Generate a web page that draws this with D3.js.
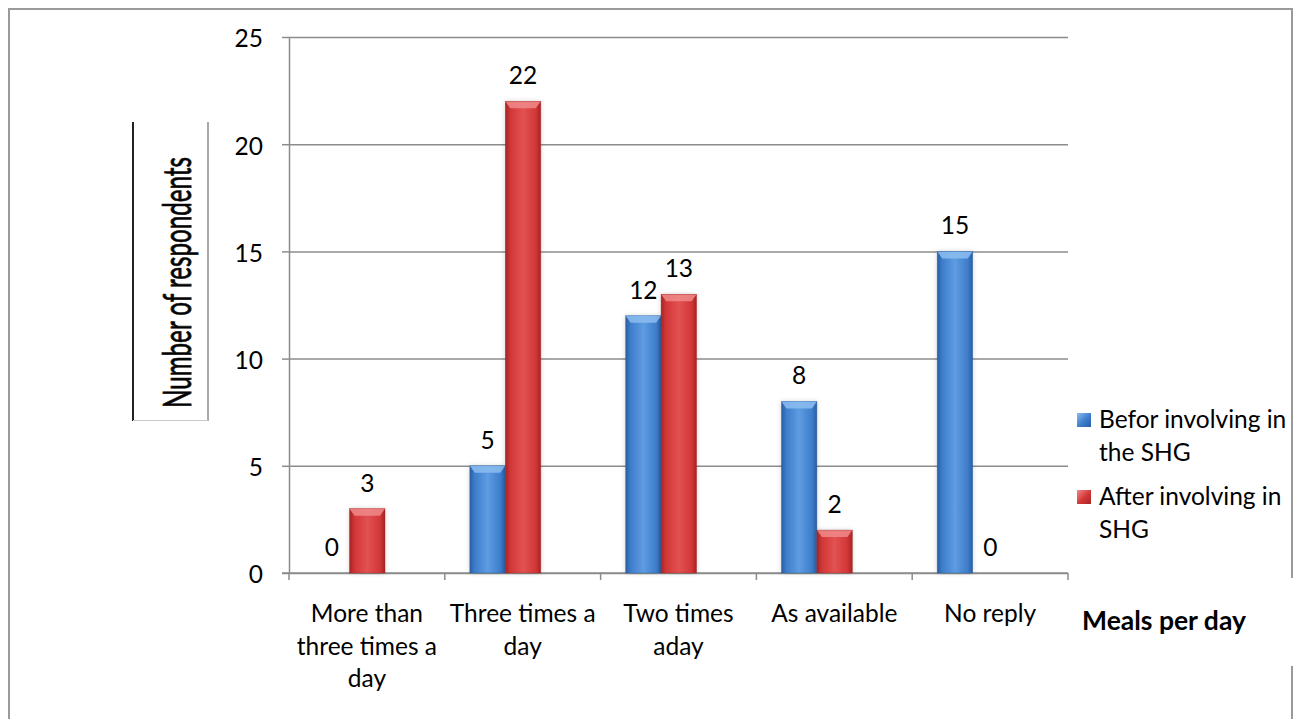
<!DOCTYPE html>
<html>
<head>
<meta charset="utf-8">
<script src="https://cdn.jsdelivr.net/npm/d3@7"></script>
<style>
  html, body { margin: 0; padding: 0; background: #fff; }
  svg { display: block; }
  text { font-family: Lato, "Open Sans", sans-serif; fill: #000; }
</style>
</head>
<body>
<svg id="chart" width="1300" height="719"></svg>
<script>
// Meals per day: respondents before and after joining the SHG
const categories = ["More than three times a day", "Three times a day", "Two times aday", "As available", "No reply"];
const categoryLines = [["More than", "three times a", "day"], ["Three times a", "day"], ["Two times", "aday"], ["As available"], ["No reply"]];
const seriesNames = ["Befor involving in the SHG", "After involving in SHG"];
const legendLines = [["Befor involving in", "the SHG"], ["After involving in", "SHG"]];
const beforeValues = [0, 5, 12, 8, 15];
const afterValues = [3, 22, 13, 2, 0];
const yTicks = [0, 5, 10, 15, 20, 25];

const svg = d3.select("#chart");
const W = 1300, H = 719;
const plot = { left: 289, right: 1068, top: 37, bottom: 573 };
const FONT = 24.5;

const x = d3.scaleBand().domain(categories).range([plot.left, plot.right]);
const xs = d3.scaleBand().domain([0, 1]).range([25, 96]);
const y = d3.scaleLinear().domain([0, 25]).range([plot.bottom, plot.top]);

const series = [
  { name: seriesNames[0], values: beforeValues, dark: "#2a5ea3", mid: "#3d7dca", light: "#5f9ce2", top: "#8cbdf0" },
  { name: seriesNames[1], values: afterValues, dark: "#a52424", mid: "#d23636", light: "#e25252", top: "#f08a8a" }
];

const defs = svg.append("defs");
series.forEach((s, i) => {
  const g = defs.append("linearGradient").attr("id", "bar" + i).attr("x1", 0).attr("x2", 1).attr("y1", 0).attr("y2", 0);
  g.append("stop").attr("offset", "0%").attr("stop-color", s.dark);
  g.append("stop").attr("offset", "14%").attr("stop-color", s.mid);
  g.append("stop").attr("offset", "50%").attr("stop-color", s.light);
  g.append("stop").attr("offset", "86%").attr("stop-color", s.mid);
  g.append("stop").attr("offset", "100%").attr("stop-color", s.dark);
  const lg = defs.append("linearGradient").attr("id", "leg" + i).attr("x1", 0).attr("x2", 1).attr("y1", 0).attr("y2", 1);
  lg.append("stop").attr("offset", "0%").attr("stop-color", s.top);
  lg.append("stop").attr("offset", "55%").attr("stop-color", s.mid);
  lg.append("stop").attr("offset", "100%").attr("stop-color", s.dark);
});
const shadow = defs.append("filter").attr("id", "soft").attr("x", "-30%").attr("y", "-10%").attr("width", "160%").attr("height", "120%");
shadow.append("feDropShadow").attr("dx", 0).attr("dy", 0).attr("stdDeviation", 2.5)
  .attr("flood-color", "#000").attr("flood-opacity", 0.18);

// outer frame (open at the bottom, broken where the axis title sits)
const frame = svg.append("g").attr("fill", "none").attr("stroke", "#9a9a9a").attr("stroke-width", 2);
frame.append("path").attr("d", `M9,${H + 2} V9 H1292 V578`);
frame.append("path").attr("d", `M1292,666 V${H + 2}`);

// horizontal gridlines
svg.append("g")
  .attr("transform", `translate(${plot.left},0)`)
  .call(d3.axisLeft(y).tickValues(yTicks).tickSize(-(plot.right - plot.left)).tickFormat(""))
  .call(g => g.select(".domain").remove())
  .call(g => g.selectAll("line").attr("stroke", "#8c8c8c").attr("stroke-width", 1.5));

// y axis with outer ticks and labels
svg.append("g")
  .attr("transform", `translate(${plot.left},0)`)
  .call(d3.axisLeft(y).tickValues(yTicks).tickSize(7).tickPadding(19).tickSizeOuter(0))
  .call(g => g.select(".domain").attr("stroke", "#8c8c8c").attr("stroke-width", 1.5))
  .call(g => g.selectAll("line").attr("stroke", "#8c8c8c").attr("stroke-width", 1.5))
  .call(g => g.selectAll("text").attr("font-size", FONT).attr("font-family", "Lato, sans-serif").attr("fill", "#000").attr("dy", "0.4em"));

// x axis baseline and boundary ticks
const xAxis = svg.append("g").attr("stroke", "#8c8c8c").attr("stroke-width", 1.5);
xAxis.append("line").attr("x1", plot.left - 7).attr("x2", plot.right).attr("y1", plot.bottom).attr("y2", plot.bottom);
const bounds = categories.map(c => x(c)).concat([x.range()[1]]);
xAxis.selectAll(".bt").data(bounds).join("line")
  .attr("x1", d => d).attr("x2", d => d).attr("y1", plot.bottom).attr("y2", plot.bottom + 7);

// bars
const barW = xs.bandwidth();
series.forEach((s, si) => {
  const g = svg.append("g");
  categories.forEach((c, ci) => {
    const v = s.values[ci];
    const x0 = x(c) + xs(si);
    const y0 = y(v);
    const h = plot.bottom - y0;
    if (h > 0) {
      g.append("rect").attr("x", x0).attr("y", y0).attr("width", barW).attr("height", h)
        .attr("fill", `url(#bar${si})`).attr("filter", "url(#soft)");
      const bev = Math.min(7, h / 2);
      g.append("path")
        .attr("d", `M${x0},${y0} H${x0 + barW} L${x0 + barW - 5},${y0 + bev} H${x0 + 5} Z`)
        .attr("fill", s.top).attr("opacity", 0.85);
      g.append("rect").attr("x", x0).attr("y", y0).attr("width", barW).attr("height", h)
        .attr("fill", "none").attr("stroke", s.dark).attr("stroke-width", 0.6).attr("opacity", 0.6);
    }
    g.append("text")
      .attr("x", x0 + barW / 2).attr("y", y0 - 17)
      .attr("text-anchor", "middle").attr("font-size", FONT)
      .text(v);
  });
});

// category labels
const xl = svg.append("g");
categories.forEach((c, ci) => {
  const t = xl.append("text").attr("text-anchor", "middle").attr("font-size", FONT)
    .attr("x", x(c) + x.bandwidth() / 2).attr("y", 622);
  categoryLines[ci].forEach((line, li) => {
    t.append("tspan").attr("x", x(c) + x.bandwidth() / 2).attr("y", 622 + li * 32.5).text(line);
  });
});

// x axis title
svg.append("text").attr("x", 1082).attr("y", 630).attr("font-size", 26.5).attr("font-weight", "bold")
  .text("Meals per day");

// y axis title in its bracket
const yt = svg.append("g");
yt.append("line").attr("x1", 133).attr("x2", 133).attr("y1", 122).attr("y2", 421).attr("stroke", "#222").attr("stroke-width", 2);
yt.append("line").attr("x1", 208).attr("x2", 208).attr("y1", 122).attr("y2", 421).attr("stroke", "#8c8c8c").attr("stroke-width", 1.5);
yt.append("line").attr("x1", 133).attr("x2", 208).attr("y1", 420.5).attr("y2", 420.5).attr("stroke", "#c8c8c8").attr("stroke-width", 1);
yt.append("text")
  .attr("transform", "translate(191,282.5) rotate(-90)")
  .attr("text-anchor", "middle")
  .attr("font-family", "'Liberation Sans', Arial, sans-serif")
  .attr("font-size", 39)
  .attr("textLength", 251).attr("lengthAdjust", "spacingAndGlyphs")
  .attr("fill", "#1a1a1a").attr("stroke", "#1a1a1a").attr("stroke-width", 0.9)
  .text("Number of respondents");

// legend
const legend = svg.append("g");
const legendTop = [428, 505];
series.forEach((s, si) => {
  const by = legendTop[si];
  legend.append("rect").attr("x", 1077).attr("y", by - 15).attr("width", 14).attr("height", 14)
    .attr("fill", `url(#leg${si})`);
  const t = legend.append("text").attr("font-size", FONT);
  legendLines[si].forEach((line, li) => {
    t.append("tspan").attr("x", 1099).attr("y", by + li * 33).text(line);
  });
});
</script>
</body>
</html>
